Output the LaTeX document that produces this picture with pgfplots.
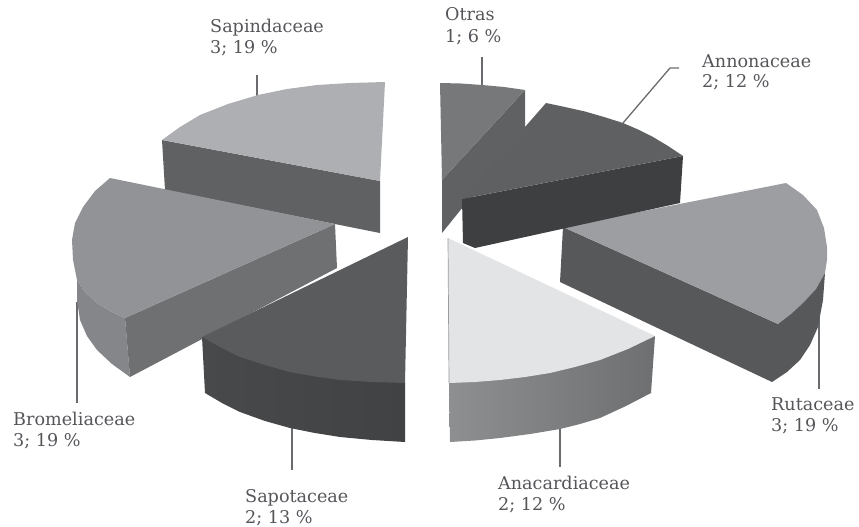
\documentclass[border=0pt]{standalone}
\usepackage{pgfplots}
\pgfplotsset{compat=1.18}
\usepackage{fontspec}
\setmainfont{DejaVu Serif}
\definecolor{txt}{HTML}{55565A}
\definecolor{lead}{HTML}{6A6B6E}
\definecolor{sapside}{HTML}{606163}
\definecolor{saptop}{HTML}{AEAFB2}
\definecolor{broout}{HTML}{858689}
\definecolor{broin}{HTML}{6F7072}
\definecolor{brotop}{HTML}{929396}
\definecolor{sotl}{HTML}{48494B}
\definecolor{sotr}{HTML}{414244}
\definecolor{sottop}{HTML}{5A5B5D}
\definecolor{otrside}{HTML}{606163}
\definecolor{otrtop}{HTML}{77787A}
\definecolor{rutside}{HTML}{57585A}
\definecolor{ruttop}{HTML}{9D9EA1}
\definecolor{anal}{HTML}{6E6F71}
\definecolor{anar}{HTML}{8E8F91}
\definecolor{anatop}{HTML}{E3E4E6}
\definecolor{anaedge}{HTML}{9A9B9D}
\definecolor{annside}{HTML}{3E3F41}
\definecolor{anntop}{HTML}{5F6062}
\newcommand{\lab}[3]{\node[anchor=base west,inner sep=0pt,text=txt,font=\fontsize{17.6}{20}\selectfont] at (axis cs:#1,#2) {#3};}
\begin{document}
\begin{tikzpicture}
\begin{axis}[
  scale only axis, width=859pt, height=527pt,
  xmin=0, xmax=859, ymin=0, ymax=527, y dir=reverse,
  axis lines=none, clip=false,
  every axis plot/.append style={no markers},
]
\path (axis cs:0,0) rectangle (axis cs:859,527);
% leader lines
\addplot[lead,line width=1.5pt] coordinates {(257,75)(257,96)};
\addplot[lead,line width=1.5pt] coordinates {(482,57)(482,86)};
\addplot[lead,line width=1.3pt] coordinates {(623,123)(670,68)(679,68)};
\addplot[lead,line width=1.5pt] coordinates {(819,303)(819,389)};
\addplot[lead,line width=1.5pt] coordinates {(560,428)(560,467)};
\addplot[lead,line width=1.5pt] coordinates {(292,428)(292,470)};
\addplot[lead,line width=1.5pt] coordinates {(77,302)(77,403)};
% Sapindaceae
\addplot[fill=sapside,draw=none] coordinates {(162,140)(380,181)(380,233)(165,190)} --cycle;
\addplot[fill=saptop,draw=none] coordinates {(162,140)(180,127)(200,115)(228,104)(258,95)(287,89)(317,85)(350,83)(385,82)(380,181)} --cycle;
% Bromeliaceae
\addplot[fill=broout,draw=none] coordinates {(77,280)(77,300)(80,320)(87,336)(97,350)(112,364)(130,377)(125,318)(110,311)(97,303)(85,292)} --cycle;
\addplot[fill=broin,draw=none] coordinates {(125,318)(335,224)(337,268)(130,377)} --cycle;
\addplot[fill=brotop,draw=none] coordinates {(110,178)(95,191)(83,207)(75,223)(72,240)(73,260)(77,280)(85,292)(97,303)(110,311)(125,318)(335,224)} --cycle;
% Sapotaceae
\addplot[left color=sotl,right color=sotr,draw=none] coordinates {(202,337)(205,393)(222,403)(240,412)(265,421)(290,428)(315,433)(340,437)(372,440)(405,442)(405,383)} --cycle;
\addplot[fill=sottop,draw=none] coordinates {(408,237)(202,337)(220,347)(240,357)(265,365)(290,372)(315,376.5)(340,380)(372,382)(405,383)} --cycle;
% Otras
\addplot[fill=otrside,draw=none] coordinates {(525,90)(525,130)(442,233)(442,180)} --cycle;
\addplot[fill=otrtop,draw=none] coordinates {(440,83)(461,83.5)(482,85)(504,87)(525,90)(442,180)} --cycle;
% Rutaceae
\addplot[fill=rutside,draw=none] coordinates {(825,273)(823,300)(818,327)(810,345)(800,360)(787,372)(772,382)(560,282)(563,227)(778,324)} --cycle;
\addplot[fill=ruttop,draw=none] coordinates {(563,227)(786,183)(803,195)(817,210)(824,228)(827,247)(827,260)(825,273)(816,289)(803,303)(791,314)(778,324)} --cycle;
% Anacardiaceae
\addplot[left color=anar,right color=anal,draw=none] coordinates {(655,336)(651,393)(626,406)(600,418)(580,424)(560,429)(530,434)(500,438)(475,440.5)(450,442)(449,383)} --cycle;
\addplot[fill=anatop,draw=none] coordinates {(448,238)(655,336)(628,349)(600,360)(575,367)(550,373)(525,377)(500,380)(475,382)(449,383)} --cycle;
\addplot[color=anaedge,line width=0.7pt] coordinates {(448,238)(449,383)};
% Annonaceae
\addplot[fill=annside,draw=none] coordinates {(683,156)(680,203)(475,248)(463,243)(462,199)} --cycle;
\addplot[fill=anntop,draw=none] coordinates {(462,199)(546,103)(565,107)(585,111.5)(604,117)(623,123)(638,129.5)(653,137)(668,146)(683,156)} --cycle;
% labels
\lab{210}{33}{Sapindaceae}
\lab{210}{53}{3; 19 \%}
\lab{445}{21}{Otras}
\lab{445}{43}{1; 6 \%}
\lab{702}{67}{Annonaceae}
\lab{702}{88}{2; 12 \%}
\lab{771}{410}{Rutaceae}
\lab{771}{431}{3; 19 \%}
\lab{498}{489}{Anacardiaceae}
\lab{498}{510}{2; 12 \%}
\lab{245}{502}{Sapotaceae}
\lab{245}{523}{2; 13 \%}
\lab{13}{425}{Bromeliaceae}
\lab{13}{446}{3; 19 \%}
\end{axis}
\end{tikzpicture}
\end{document}
